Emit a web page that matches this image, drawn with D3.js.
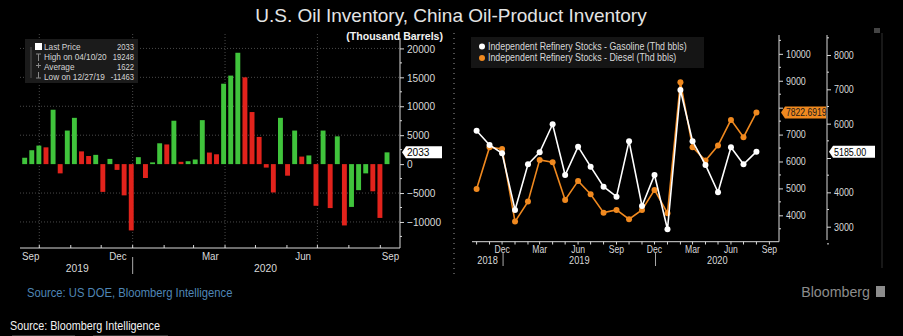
<!DOCTYPE html>
<html><head><meta charset="utf-8">
<script src="https://cdn.jsdelivr.net/npm/d3@7"></script>
<style>
body{margin:0;background:#000;}
svg{display:block;}
text{font-family:"Liberation Sans","Arial",sans-serif;}
</style>
</head><body>
<svg id="c" width="903" height="336"></svg>
<script>
// ---------- DATA ----------
// Left: weekly change in U.S. oil inventory (thousand barrels), weeks starting 2019-09-13
const usFirstWeek = "2019-09-13";
const usChange = [1100,2400,3200,2900,9400,-1600,5800,8000,2200,1400,1600,-4800,900,-1000,-5400,-11463,
  1200,-2400,300,3600,3400,7500,400,500,800,7600,2000,1700,13900,15300,19248,15000,9000,4700,-600,-4900,
  8000,-2000,5800,1300,1500,-7200,5800,-7600,4800,-10600,-7400,-4500,-1600,-4700,-9300,2033];
const usTicks = [-10000,-5000,0,5000,10000,15000,20000];
const usLegendLabels = ["Last Price","High on 04/10/20","Average","Low on 12/27/19"];
const usLegendValues = ["2033","19248","1622","-11463"];
const usLastLabel = "2033";

// Right: China independent refinery stocks (thousand barrels), monthly from 2018-10
const cnFirstMonth = "2018-10-01";
const gasoline = [5796,5379,5137,3486,4817,5167,5982,4506,5330,4747,4165,3874,5490,3603,4506,2924,6981,5490,4797,4002,5312,4817,5185];
const diesel = [4981,6532,6468,3766,4509,6059,5974,4572,5279,4784,4100,4201,3855,4201,4944,4078,8948,6532,6033,6591,7546,6903,7822.6919];
const dieselTicks = [4000,5000,6000,7000,9000,10000];      // 8000 label hidden under the last-value tag
const dieselTickMarks = [4000,5000,6000,7000,8000,9000,10000];
const gasolineTicks = [3000,4000,6000,7000,8000];          // 5000 label hidden under the last-value tag
const gasolineTickMarks = [3000,4000,5000,6000,7000,8000];
const seriesNames = ["Independent Refinery Stocks - Gasoline (Thd bbls)","Independent Refinery Stocks - Diesel (Thd bbls)"];
const dieselLastLabel = "7822.6919";
const gasolineLastLabel = "5185.00";

const monthNames = ["Jan","Feb","Mar","Apr","May","Jun","Jul","Aug","Sep","Oct","Nov","Dec"];

// ---------- SETUP ----------
const svg = d3.select("#c");
svg.append("rect").attr("width",903).attr("height",336).attr("fill","#000");
const GREEN="#40c43c", RED="#e2231c", ORANGE="#f0891f", GRID="#4a4a4a", AX="#d9d9d9";
const pd = d3.timeParse("%Y-%m-%d");
function narrow(sel, f){
  sel.each(function(){
    const t=d3.select(this); const x=+t.attr("x")||0;
    t.attr("transform",`translate(${x*(1-f)},0) scale(${f},1)`);
  });
  return sel;
}

svg.append("text").attr("x",451).attr("y",22).attr("text-anchor","middle")
  .attr("fill","#e4e4e4").attr("font-size",19)
  .text("U.S. Oil Inventory, China Oil-Product Inventory");

// ---------- LEFT CHART ----------
const L = svg.append("g");
const xL = d3.scaleTime().domain([new Date(2019,8,12), new Date(2020,8,19)]).range([20,398.6]);
const yL = d3.scaleLinear().domain([-14500,21800]).range([248,38]);
const d0 = pd(usFirstWeek);
const weeks = usChange.map((v,i)=>({d:d3.timeDay.offset(d0,7*i), v, up: i===0 ? true : v>=usChange[i-1]}));

// gridlines
L.selectAll(".hg").data(usTicks.filter(t=>t!==0)).enter().append("line")
  .attr("x1",20).attr("x2",400).attr("y1",d=>yL(d)).attr("y2",d=>yL(d))
  .attr("stroke",GRID).attr("stroke-dasharray","1,2");
const qLines = [new Date(2019,9,1),new Date(2020,0,1),new Date(2020,3,1),new Date(2020,6,1)];
L.selectAll(".vg").data(qLines).enter().append("line")
  .attr("x1",d=>xL(d)).attr("x2",d=>xL(d)).attr("y1",34).attr("y2",248)
  .attr("stroke",GRID).attr("stroke-dasharray","1,2");

// bars
L.selectAll(".bar").data(weeks).enter().append("rect")
  .attr("x",d=>xL(d.d)+1.2)
  .attr("width",d=>xL(d3.timeDay.offset(d.d,7))-xL(d.d)-2.2)
  .attr("y",d=>yL(Math.max(0,d.v)))
  .attr("height",d=>Math.abs(yL(d.v)-yL(0)))
  .attr("fill",d=>d.up?GREEN:RED);

// right axis
const ayL = L.append("g").attr("transform","translate(400,0)")
  .call(d3.axisRight(yL).tickValues(usTicks).tickSize(4).tickPadding(3).tickFormat(d3.format("d")));
ayL.select(".domain").attr("stroke",AX).attr("d","M0,38V248");
ayL.selectAll(".tick line").attr("stroke",AX);
narrow(ayL.selectAll("text").attr("fill",AX).attr("font-size",11.5), 0.88);
L.selectAll(".mt").data(d3.range(-12500,21000,5000)).enter().append("line")
  .attr("x1",400).attr("x2",402).attr("y1",d=>yL(d)).attr("y2",d=>yL(d)).attr("stroke",AX);

// bottom axis
L.append("line").attr("x1",20).attr("x2",400).attr("y1",248).attr("y2",248).attr("stroke",AX);
const monthsL = d3.timeMonth.range(new Date(2019,9,1), new Date(2020,8,19));
L.selectAll(".bt").data(monthsL).enter().append("line")
  .attr("x1",d=>xL(d)).attr("x2",d=>xL(d)).attr("y1",248).attr("y2",245).attr("stroke",AX);
const [ld0, ld1] = xL.domain();
const labMonthsL = [new Date(2019,8,1),new Date(2019,11,1),new Date(2020,2,1),new Date(2020,5,1),new Date(2020,8,1)];
narrow(L.selectAll(".ml").data(labMonthsL).enter().append("text")
  .attr("x",d=>{const a=d<ld0?ld0:d; const e=d3.timeMonth.offset(d,1); const b=e>ld1?ld1:e; return (xL(a)+xL(b))/2+1;})
  .attr("y",260).attr("text-anchor","middle").attr("fill",AX).attr("font-size",11.5)
  .text(d=>monthNames[d.getMonth()]), 0.85);
const yb = new Date(2020,0,1);
L.append("line").attr("x1",xL(yb)).attr("x2",xL(yb)).attr("y1",257).attr("y2",274).attr("stroke","#aaa");
narrow(L.append("text").attr("x",(xL(ld0)+xL(yb))/2+1).attr("y",272).attr("text-anchor","middle").attr("fill",AX).attr("font-size",11.5).text("2019"),0.9);
narrow(L.append("text").attr("x",(xL(yb)+xL(ld1))/2).attr("y",272).attr("text-anchor","middle").attr("fill",AX).attr("font-size",11.5).text("2020"),0.9);

// last value tag
function tagLabel(g, x, y, w, txt, fill, tc, fs, f){
  const h=12;
  g.append("path").attr("d",`M${x},${y} L${x+4},${y-h/2} H${x+w} V${y+h/2} H${x+4} Z`).attr("fill",fill);
  narrow(g.append("text").attr("x",x+5).attr("y",y+4).attr("fill",tc).attr("font-size",fs).text(txt), f);
}
tagLabel(L, 402, yL(usChange[usChange.length-1]), 40, usLastLabel, "#fff", "#000", 11.5, 0.88);

narrow(svg.append("text").attr("x",443).attr("y",40).attr("text-anchor","end").attr("fill","#f2f2f2")
  .attr("font-size",11).attr("font-weight","bold").text("(Thousand Barrels)"), 0.96);

// legend
const lg = L.append("g");
lg.append("rect").attr("x",25).attr("y",39).attr("width",113).attr("height",44).attr("fill","#1b1b1b");
lg.append("line").attr("x1",31).attr("x2",31).attr("y1",47).attr("y2",78).attr("stroke","#555");
usLegendLabels.forEach((t,i)=>{
  const yy = 50.5+i*10;
  narrow(lg.append("text").attr("x",44).attr("y",yy).attr("fill","#d5d5d5").attr("font-size",9.8).text(t), 0.84);
  narrow(lg.append("text").attr("x",134).attr("y",yy).attr("text-anchor","end").attr("fill","#d5d5d5").attr("font-size",9.8).text(usLegendValues[i]), 0.78);
});
lg.append("rect").attr("x",35).attr("y",43).attr("width",7).attr("height",7).attr("fill","#fff");
lg.append("path").attr("d","M36,54H41M38.5,54V61").attr("stroke","#888").attr("fill","none");
lg.append("path").attr("d","M36,65.5H41M38.5,63V68").attr("stroke","#888").attr("fill","none");
lg.append("path").attr("d","M36,78H41M38.5,72V78").attr("stroke","#888").attr("fill","none");

// panel separator
svg.append("line").attr("x1",454).attr("x2",454).attr("y1",33).attr("y2",278)
  .attr("stroke","#999").attr("stroke-dasharray","1,4");

// ---------- RIGHT CHART ----------
const R = svg.append("g");
const xR = d3.scaleTime().domain([new Date(2018,8,20), new Date(2020,8,24)]).range([472,779]);
const yD = d3.scaleLinear().domain([3020,10700]).range([241.7,35]);
const yG = d3.scaleLinear().domain([2563,8582]).range([241.7,35]);
const m0 = pd(cnFirstMonth);
const months = gasoline.map((g,i)=>({d:d3.timeMonth.offset(m0,i), g, dsl:diesel[i]}));

// legend
R.append("rect").attr("x",471).attr("y",37).attr("width",233).attr("height",31).attr("fill","#151515");
seriesNames.forEach((t,i)=>{
  const yy=46.5+i*11.5;
  R.append("circle").attr("cx",482).attr("cy",yy).attr("r",3).attr("fill",i===0?"#fff":ORANGE);
  narrow(R.append("text").attr("x",488).attr("y",yy+3.5).attr("fill","#d8d8d8").attr("font-size",10).text(t), 0.885);
});

// lines
const lineD = d3.line().x(d=>xR(d.d)).y(d=>yD(d.dsl));
const lineG = d3.line().x(d=>xR(d.d)).y(d=>yG(d.g));
R.append("path").datum(months).attr("d",lineD).attr("fill","none").attr("stroke",ORANGE).attr("stroke-width",1.6);
R.selectAll(".pd").data(months).enter().append("circle").attr("cx",d=>xR(d.d)).attr("cy",d=>yD(d.dsl)).attr("r",3).attr("fill",ORANGE);
R.append("path").datum(months).attr("d",lineG).attr("fill","none").attr("stroke","#fff").attr("stroke-width",1.6);
R.selectAll(".pg").data(months).enter().append("circle").attr("cx",d=>xR(d.d)).attr("cy",d=>yG(d.g)).attr("r",3).attr("fill","#fff");

// bottom axis
R.append("line").attr("x1",472).attr("x2",779).attr("y1",241.7).attr("y2",241.7).attr("stroke",AX);
const monthsR = d3.timeMonth.range(new Date(2018,9,1), new Date(2020,8,24));
R.selectAll(".bt").data(monthsR).enter().append("line")
  .attr("x1",d=>xR(d)).attr("x2",d=>xR(d)).attr("y1",241.7).attr("y2",244.5).attr("stroke",AX);
const labR = monthsR.filter(d=>[2,5,8,11].includes(d.getMonth()));
narrow(R.selectAll(".ml").data(labR).enter().append("text")
  .attr("x",d=>xR(d)).attr("y",253.5).attr("text-anchor","middle").attr("fill",AX).attr("font-size",10.5)
  .text(d=>monthNames[d.getMonth()]), 0.82);
const sepR = [new Date(2018,11,1), new Date(2019,11,1)];
R.selectAll(".ys").data(sepR).enter().append("line")
  .attr("x1",d=>xR(d)+1).attr("x2",d=>xR(d)+1).attr("y1",252).attr("y2",266).attr("stroke","#aaa");
const yrEdges = [472, xR(sepR[0])+1, xR(sepR[1])+1, 779];
["2018","2019","2020"].forEach((t,i)=>{
  narrow(R.append("text").attr("x",(yrEdges[i]+yrEdges[i+1])/2).attr("y",264).attr("text-anchor","middle")
    .attr("fill",AX).attr("font-size",10.5).text(t), 0.88);
});

// inner axis (diesel)
const aD = R.append("g").attr("transform","translate(779,0)")
  .call(d3.axisRight(yD).tickValues(dieselTickMarks).tickSize(4).tickPadding(3)
    .tickFormat(d=>dieselTicks.includes(d)?d3.format("d")(d):""));
aD.select(".domain").attr("stroke",AX).attr("d","M0,35V241.7");
aD.selectAll(".tick line").attr("stroke",AX);
aD.selectAll(".tick text").filter(function(){return this.textContent==="";}).remove();
narrow(aD.selectAll("text").attr("fill",AX).attr("font-size",10.5), 0.85);
R.selectAll(".mtd").data(d3.range(3500,10700,1000)).enter().append("line")
  .attr("x1",779).attr("x2",781).attr("y1",d=>yD(d)).attr("y2",d=>yD(d)).attr("stroke",AX);

// outer axis (gasoline)
const aG = R.append("g").attr("transform","translate(827,0)")
  .call(d3.axisRight(yG).tickValues(gasolineTickMarks).tickSize(4).tickPadding(3)
    .tickFormat(d=>gasolineTicks.includes(d)?d3.format("d")(d):""));
aG.select(".domain").attr("stroke",AX).attr("d","M0,35V240");
aG.selectAll(".tick line").attr("stroke",AX);
aG.selectAll(".tick text").filter(function(){return this.textContent==="";}).remove();
narrow(aG.selectAll("text").attr("fill",AX).attr("font-size",10.5), 0.85);
R.selectAll(".mtg").data(d3.range(2500,8600,1000)).enter().append("line")
  .attr("x1",827).attr("x2",829).attr("y1",d=>yG(d)).attr("y2",d=>yG(d)).attr("stroke",AX);

tagLabel(R, 781, yD(diesel[diesel.length-1]), 45, dieselLastLabel, ORANGE, "#1a1a1a", 10.5, 0.82);
tagLabel(R, 829, yG(gasoline[gasoline.length-1]), 46, gasolineLastLabel, "#fff", "#000", 10.5, 0.85);

// right border line + icon
svg.append("line").attr("x1",882).attr("x2",882).attr("y1",33).attr("y2",268).attr("stroke","#303030");
svg.append("rect").attr("x",874).attr("y",28).attr("width",6).attr("height",5).attr("fill","#444");

// ---------- FOOTER ----------
narrow(svg.append("text").attr("x",27).attr("y",297).attr("fill","#4f86b6").attr("font-size",12.5).text("Source: US DOE, Bloomberg Intelligence"), 0.9);
narrow(svg.append("text").attr("x",870).attr("y",297).attr("text-anchor","end").attr("fill","#8c8c8c").attr("font-size",15).text("Bloomberg"), 0.95);
svg.append("rect").attr("x",876).attr("y",286).attr("width",9).attr("height",11).attr("fill","#8c8c8c");
narrow(svg.append("text").attr("x",10).attr("y",330).attr("fill","#f0f0f0").attr("font-size",12).text("Source: Bloomberg Intelligence"), 0.9);
svg.append("line").attr("x1",12).attr("x2",75).attr("y1",335.5).attr("y2",335.5).attr("stroke","#333");
svg.append("line").attr("x1",93).attr("x2",168).attr("y1",335.5).attr("y2",335.5).attr("stroke","#333");
</script>
</body></html>
